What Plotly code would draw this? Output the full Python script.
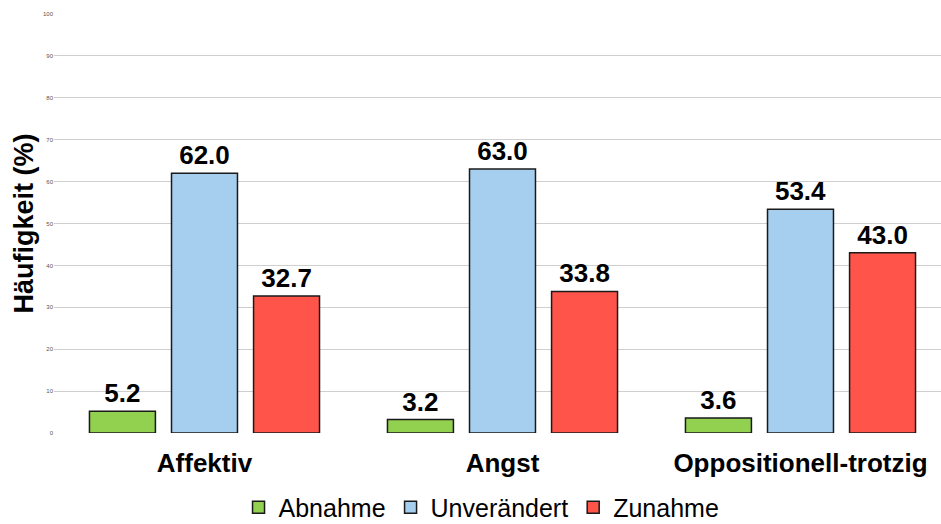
import plotly.graph_objects as go

categories = ["Affektiv", "Angst", "Oppositionell-trotzig"]
abnahme = [5.2, 3.2, 3.6]
unveraendert = [62.0, 63.0, 53.4]
zunahme = [32.7, 33.8, 43.0]
y_ticks = [0, 10, 20, 30, 40, 50, 60, 70, 80, 90, 100]

series = [
    ("Abnahme", abnahme, "#92d050"),
    ("Unverändert", unveraendert, "#a6cfef"),
    ("Zunahme", zunahme, "#ff5449"),
]

fig = go.Figure()

for name, values, color in series:
    fig.add_trace(
        go.Bar(
            x=categories,
            y=values,
            name=name,
            marker=dict(color=color, line=dict(color="#1a1a1a", width=1.5)),
            text=[f"{v:.1f}" for v in values],
            textposition="outside",
            textfont=dict(family="Liberation Sans", size=26, color="black", weight="bold"),
            cliponaxis=False,
        )
    )

fig.update_layout(
    width=941,
    height=524,
    margin=dict(l=54, r=0, t=14, b=91, autoexpand=False),
    plot_bgcolor="white",
    paper_bgcolor="white",
    font=dict(family="Liberation Sans", color="black"),
    barmode="group",
    bargap=0.174,
    bargroupgap=0.196,
    showlegend=True,
    legend=dict(
        orientation="h",
        xanchor="center",
        x=0.482,
        yanchor="middle",
        y=-0.178,
        font=dict(size=25),
        itemwidth=30,
        traceorder="normal",
    ),
    xaxis=dict(
        range=[-0.505, 2.4715],
        automargin=False,
        showgrid=False,
        showline=False,
        ticks="",
        ticklabelstandoff=12,
        tickfont=dict(size=26, weight="bold", color="black"),
    ),
    yaxis=dict(
        range=[0, 100],
        automargin=False,
        tickvals=y_ticks,
        tickfont=dict(size=6, color="#555555"),
        showgrid=True,
        gridcolor="#cfcfcf",
        gridwidth=1,
        zeroline=False,
        ticks="",
        ticklabelstandoff=0,
        title=dict(
            text="Häufigkeit (%)",
            font=dict(size=27, weight="bold", color="black"),
            standoff=1,
        ),
    ),
)

# page body has a default 8px margin; drop it so the figure sits at the corner
fig.write_html(
    "out.html",
    config={"displayModeBar": False},
    post_script="document.body.style.margin = '0';",
)
